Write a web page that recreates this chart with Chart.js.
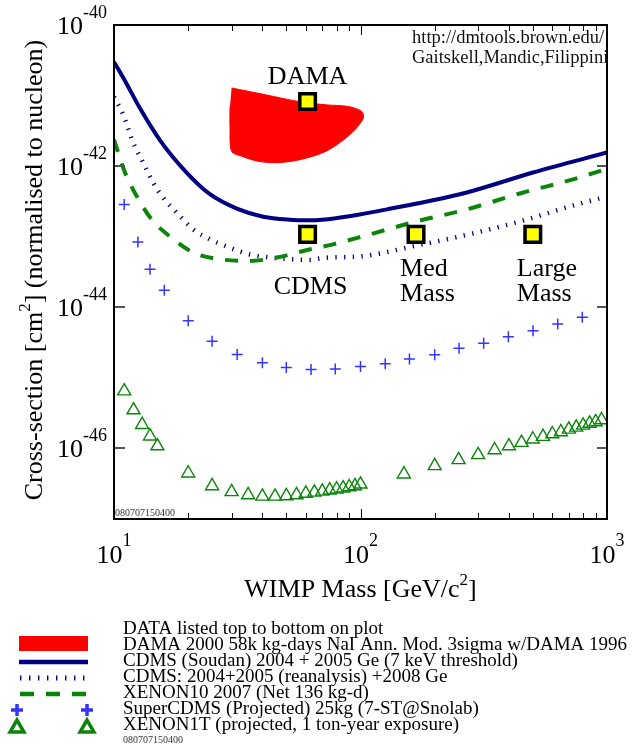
<!DOCTYPE html>
<html>
<head>
<meta charset="utf-8">
<script src="https://cdn.jsdelivr.net/npm/chart.js@4.4.1/dist/chart.umd.min.js"></script>
<style>
  html, body { margin: 0; padding: 0; background: #fff; }
  #wrap { width: 639px; height: 746px; }
</style>
</head>
<body>
<div id="wrap"><canvas id="limits" width="639" height="746"></canvas></div>
<script>
// WIMP mass in GeV/c^2, cross-section in cm^2

// DAMA 3 sigma region (closed outline)
const damaMass  = [30.0, 41.0, 55.9, 71.8, 89.2, 101.1, 102.7, 95.0, 83.9, 71.8, 57.7, 46.4, 38.5, 33.0, 30.0, 29.55, 29.55];
const damaSigma = [1.28e-41, 1.03e-41, 8.25e-42, 7.41e-42, 7.0e-42, 5.96e-42, 4.81e-42, 3.29e-42, 2.25e-42, 1.6e-42, 1.25e-42, 1.12e-42, 1.17e-42, 1.38e-42, 1.62e-42, 3.66e-42, 7.0e-42];

// CDMS (Soudan) 2004 + 2005
const cdmsMass  = [10, 11.1, 12.75, 15.4, 19.7, 24.5, 31.5, 40.3, 51.8, 60, 72, 90, 128, 270, 501, 1000];
const cdmsSigma = [3.0e-41, 1.6e-41, 6.6e-42, 2.3e-42, 8.1e-43, 4.0e-43, 2.5e-43, 1.92e-43, 1.74e-43, 1.71e-43, 1.76e-43, 1.95e-43, 2.44e-43, 4.24e-43, 8.13e-43, 1.56e-42];

// CDMS 2004+2005 (reanalysis) + 2008
const cdmsReMass  = [10, 10.9, 11.97, 13.15, 14.43, 15.85, 17.97, 20.98, 24.5, 29.55, 35.6, 42.9, 51.8, 62.4, 70.5, 102, 163, 297, 474, 755, 1000];
const cdmsReSigma = [9.6e-42, 5.36e-42, 2.13e-42, 1.11e-42, 5.8e-43, 3.56e-43, 2.19e-43, 1.27e-43, 9.2e-44, 7.0e-44, 5.6e-44, 5.07e-44, 4.8e-44, 4.69e-44, 5.0e-44, 5.3e-44, 7.3e-44, 1.15e-43, 1.76e-43, 2.87e-43, 3.7e-43];

// XENON10 2007
const xenon10Mass  = [10, 11.1, 12.36, 14.2, 17.1, 21.0, 26.9, 35.6, 45.7, 58.6, 77.3, 102, 169, 270, 443, 728, 1000];
const xenon10Sigma = [2.38e-42, 8.0e-43, 3.76e-43, 1.76e-43, 9.7e-44, 5.96e-44, 4.8e-44, 4.54e-44, 5.07e-44, 6.28e-44, 7.8e-44, 1.01e-43, 1.65e-43, 2.44e-43, 4.1e-43, 6.5e-43, 9.2e-43];

// SuperCDMS projected
const superMass  = [11, 12.5, 14, 16, 20, 25, 31.6, 40, 50, 63, 79, 100, 126, 158, 200, 251, 316, 398, 501, 631, 794];
const superSigma = [2.87e-43, 8.4e-44, 3.47e-44, 1.75e-44, 6.44e-45, 3.30e-45, 2.15e-45, 1.64e-45, 1.40e-45, 1.31e-45, 1.34e-45, 1.45e-45, 1.58e-45, 1.85e-45, 2.13e-45, 2.62e-45, 3.09e-45, 3.83e-45, 4.66e-45, 5.79e-45, 7.2e-45];

// XENON1T projected
const x1tMass  = [11, 12, 13, 14, 15, 20, 25, 30, 35, 40, 45, 50, 55, 60, 65, 70, 75, 80, 85, 90, 95, 100,
                  150, 200, 250, 300, 350, 400, 450, 500, 550, 600, 650, 700, 750, 800, 850, 900, 950];
const x1tSigma = [6.49e-46, 3.50e-46, 2.17e-46, 1.49e-46, 1.08e-46, 4.45e-47, 2.94e-47, 2.42e-47, 2.19e-47, 2.09e-47, 2.09e-47,
                  2.12e-47, 2.19e-47, 2.30e-47, 2.38e-47, 2.46e-47, 2.56e-47, 2.64e-47, 2.73e-47, 2.84e-47, 2.94e-47, 3.10e-47,
                  4.31e-47, 5.66e-47, 6.89e-47, 8.1e-47, 9.5e-47, 1.08e-46, 1.21e-46, 1.35e-46, 1.47e-46, 1.60e-46,
                  1.71e-46, 1.86e-46, 1.99e-46, 2.12e-46, 2.26e-46, 2.37e-46, 2.53e-46];

// yellow benchmark points
const markerMass   = [61, 61, 168, 500];
const markerSigma  = [8.26e-42, 1.08e-43, 1.08e-43, 1.08e-43];
const markerLabels = [["DAMA"], ["CDMS"], ["Med", "Mass"], ["Large", "Mass"]];

// axes
const xMin = 10, xMax = 1000;
const yMin = 1e-47, yMax = 1e-40;
const xMajorTicks = [10, 100, 1000];
const xMajorLabels = [["10", "1"], ["10", "2"], ["10", "3"]];
const xMinorTicks = [20, 30, 40, 50, 60, 70, 80, 90, 200, 300, 400, 500, 600, 700, 800, 900];
const yTicks = [1e-40, 1e-42, 1e-44, 1e-46];
const yTickLabels = [["10", "-40"], ["10", "-42"], ["10", "-44"], ["10", "-46"]];

const legendLines = [
  "DATA listed top to bottom on plot",
  "DAMA 2000 58k kg-days NaI Ann. Mod. 3sigma w/DAMA 1996",
  "CDMS (Soudan) 2004 + 2005 Ge (7 keV threshold)",
  "CDMS: 2004+2005 (reanalysis) +2008 Ge",
  "XENON10 2007 (Net 136 kg-d)",
  "SuperCDMS (Projected) 25kg (7-ST@Snolab)",
  "XENON1T (projected, 1 ton-year exposure)"
];
const stamp = "080707150400";
const credits = ["http://dmtools.brown.edu/", "Gaitskell,Mandic,Filippini"];

const SERIF = "'Liberation Serif', 'Times New Roman', serif";
const NAVY = "#000080", GREEN = "#0a850a", BLUE = "#3434ff", RED = "#ff0000";

const pts = (xs, ys) => xs.map((m, i) => ({ x: m, y: ys[i] }));

// draws e.g. 10^-42 with a raised, smaller exponent
function powText(ctx, parts, x, y, align, big, small, rise) {
  ctx.font = big + "px " + SERIF;
  const w0 = ctx.measureText(parts[0]).width;
  ctx.font = small + "px " + SERIF;
  const w1 = ctx.measureText(parts[1]).width;
  let left = x;
  if (align === "right") left = x - w0 - w1;
  if (align === "center") left = x - (w0 + w1) / 2;
  ctx.textAlign = "left";
  ctx.font = big + "px " + SERIF;
  ctx.fillText(parts[0], left, y);
  ctx.font = small + "px " + SERIF;
  ctx.fillText(parts[1], left + w0, y - rise);
}

function drawTitle(ctx, parts, cx, baseY) {
  const big = "26px " + SERIF, small = "17px " + SERIF;
  ctx.font = big; const w0 = ctx.measureText(parts[0]).width;
  ctx.font = small; const w1 = ctx.measureText(parts[1]).width;
  ctx.font = big; const w2 = ctx.measureText(parts[2]).width;
  const left = cx - (w0 + w1 + w2) / 2;
  ctx.textAlign = "left";
  ctx.font = big; ctx.fillText(parts[0], left, baseY);
  ctx.font = small; ctx.fillText(parts[1], left + w0, baseY - 12);
  ctx.font = big; ctx.fillText(parts[2], left + w0 + w1, baseY);
}

const decorations = {
  id: "decorations",
  afterDatasetsDraw(chart) {
    const { ctx, chartArea: a, scales: { x, y } } = chart;
    ctx.save();
    ctx.fillStyle = "#000";
    ctx.textBaseline = "alphabetic";

    // labels next to the yellow squares
    const marks = chart.getDatasetMeta(0).data;
    ctx.font = "26px " + SERIF;
    const p0 = marks[0], p1 = marks[1], p2 = marks[2], p3 = marks[3];
    ctx.textAlign = "center";
    ctx.fillText(markerLabels[0][0], p0.x, p0.y - 17);
    ctx.fillText(markerLabels[1][0], p1.x + 3, p1.y + 60);
    ctx.textAlign = "left";
    [p2, p3].forEach((p, k) => {
      const lines = markerLabels[k + 2];
      ctx.fillText(lines[0], p.x - 16, p.y + 42);
      ctx.fillText(lines[1], p.x - 16, p.y + 67);
    });

    // credits, clipped to the plot
    ctx.save();
    ctx.beginPath();
    ctx.rect(a.left, a.top, a.right - a.left, a.bottom - a.top);
    ctx.clip();
    ctx.font = "18.5px " + SERIF;
    ctx.fillStyle = "#111";
    ctx.fillText(credits[0], 412, 43);
    ctx.fillText(credits[1], 412, 63);
    ctx.restore();

    ctx.font = "10px " + SERIF;
    ctx.fillStyle = "#333";
    ctx.fillText(stamp, a.left + 1, a.bottom - 3);

    // ticks
    ctx.strokeStyle = "#000";
    ctx.lineWidth = 1;
    ctx.beginPath();
    xMinorTicks.forEach(v => {
      const px = Math.round(x.getPixelForValue(v)) + 0.5;
      ctx.moveTo(px, a.top); ctx.lineTo(px, a.top + 6);
      ctx.moveTo(px, a.bottom); ctx.lineTo(px, a.bottom - 6);
    });
    const px100 = Math.round(x.getPixelForValue(100)) + 0.5;
    ctx.moveTo(px100, a.top); ctx.lineTo(px100, a.top + 10);
    ctx.moveTo(px100, a.bottom); ctx.lineTo(px100, a.bottom - 10);
    ctx.stroke();

    ctx.strokeStyle = "#555";
    ctx.lineWidth = 2;
    ctx.beginPath();
    yTicks.slice(1).forEach(v => {
      const py = Math.round(y.getPixelForValue(v));
      ctx.moveTo(a.left, py); ctx.lineTo(a.left + 11, py);
      ctx.moveTo(a.right, py); ctx.lineTo(a.right - 10, py);
    });
    ctx.stroke();

    // frame
    ctx.strokeStyle = "#000";
    ctx.lineWidth = 2;
    ctx.strokeRect(a.left, a.top, a.right - a.left, a.bottom - a.top);

    // tick labels
    ctx.fillStyle = "#000";
    yTicks.forEach((v, i) => {
      powText(ctx, yTickLabels[i], a.left - 7, y.getPixelForValue(v) + 9, "right", 26, 18, 16);
    });
    xMajorTicks.forEach((v, i) => {
      powText(ctx, xMajorLabels[i], x.getPixelForValue(v), 563, "center", 26, 18, 17);
    });

    // axis titles
    drawTitle(ctx, ["WIMP Mass [GeV/c", "2", "]"], (a.left + a.right) / 2, 597);
    ctx.save();
    ctx.translate(42, (a.top + a.bottom) / 2 - 2);
    ctx.rotate(-Math.PI / 2);
    drawTitle(ctx, ["Cross-section [cm", "2", "] (normalised to nucleon)"], 0, 0);
    ctx.restore();

    ctx.restore();
  },
  afterDraw(chart) {
    const ctx = chart.ctx;
    ctx.save();
    const tx = 123, base0 = 634, step = 16;
    ctx.fillStyle = "#000";
    ctx.textAlign = "left";
    ctx.textBaseline = "alphabetic";
    ctx.font = "19px " + SERIF;
    legendLines.forEach((t, i) => ctx.fillText(t, tx, base0 + i * step));
    ctx.font = "10px " + SERIF;
    ctx.fillStyle = "#333";
    ctx.fillText(stamp, tx, base0 + 6 * step + 13);

    const mid = i => base0 + i * step - 6;
    const x0 = 19, x1 = 88;
    // DAMA
    ctx.fillStyle = RED;
    ctx.fillRect(x0, mid(1) - 8, x1 - x0, 15);
    // CDMS solid
    ctx.lineCap = "butt";
    ctx.strokeStyle = NAVY; ctx.lineWidth = 4.5;
    ctx.beginPath(); ctx.moveTo(x0, mid(2) + 2); ctx.lineTo(x1, mid(2) + 2); ctx.stroke();
    // CDMS reanalysis dotted
    ctx.setLineDash([1.4, 7.6]); ctx.lineWidth = 5;
    ctx.beginPath(); ctx.moveTo(x0 + 1, mid(3) + 2); ctx.lineTo(x1, mid(3) + 2); ctx.stroke();
    // XENON10 dashed
    ctx.setLineDash([14, 12]); ctx.strokeStyle = GREEN; ctx.lineWidth = 4.5;
    ctx.beginPath(); ctx.moveTo(x0 + 1, mid(4) + 2); ctx.lineTo(x1 + 2, mid(4) + 2); ctx.stroke();
    ctx.setLineDash([]);
    // SuperCDMS crosses + XENON1T triangles at both ends
    [x0 - 2, x1 - 1].forEach(cx => {
      ctx.strokeStyle = BLUE; ctx.lineWidth = 3.5;
      ctx.beginPath();
      ctx.moveTo(cx - 6, mid(5) + 2); ctx.lineTo(cx + 6, mid(5) + 2);
      ctx.moveTo(cx, mid(5) - 4); ctx.lineTo(cx, mid(5) + 8);
      ctx.stroke();
      ctx.strokeStyle = GREEN; ctx.lineWidth = 3.5;
      const cy = mid(6) + 4, r = 8;
      ctx.beginPath();
      ctx.moveTo(cx, cy - r);
      ctx.lineTo(cx + r * 0.866, cy + r / 2);
      ctx.lineTo(cx - r * 0.866, cy + r / 2);
      ctx.closePath();
      ctx.stroke();
    });
    ctx.restore();
  }
};

new Chart(document.getElementById("limits"), {
  type: "scatter",
  data: {
    datasets: [
      {
        label: "markers", order: 0,
        data: pts(markerMass, markerSigma),
        pointStyle: "rect", pointRadius: 11, pointHoverRadius: 11,
        backgroundColor: "#ffff00", borderColor: "#000", borderWidth: 3.5
      },
      {
        label: "DAMA", order: 6,
        data: pts(damaMass, damaSigma),
        showLine: true, fill: "shape", tension: 0.3,
        backgroundColor: RED, borderColor: RED, borderWidth: 1, pointRadius: 0
      },
      {
        label: "CDMS Soudan", order: 3,
        data: pts(cdmsMass, cdmsSigma),
        showLine: true, cubicInterpolationMode: "monotone",
        borderColor: NAVY, borderWidth: 4, pointRadius: 0
      },
      {
        label: "CDMS reanalysis", order: 4,
        data: pts(cdmsReMass, cdmsReSigma),
        showLine: true, cubicInterpolationMode: "monotone",
        borderColor: NAVY, borderWidth: 4.5, borderDash: [1.3, 7.4], borderCapStyle: "butt", pointRadius: 0
      },
      {
        label: "XENON10", order: 2,
        data: pts(xenon10Mass, xenon10Sigma),
        showLine: true, cubicInterpolationMode: "monotone",
        borderColor: GREEN, borderWidth: 4, borderDash: [13, 12], borderCapStyle: "butt", pointRadius: 0
      },
      {
        label: "SuperCDMS", order: 1,
        data: pts(superMass, superSigma),
        pointStyle: "cross", pointRadius: 5.5, borderColor: BLUE, borderWidth: 1.5
      },
      {
        label: "XENON1T", order: 1,
        data: pts(x1tMass, x1tSigma),
        pointStyle: "triangle", pointRadius: 7.5, borderColor: GREEN, backgroundColor: "rgba(0,0,0,0)", borderWidth: 1.4
      }
    ]
  },
  options: {
    responsive: false,
    animation: false,
    devicePixelRatio: 1,
    layout: { padding: { left: 114, right: 32, top: 25, bottom: 227 } },
    plugins: { legend: { display: false }, tooltip: { enabled: false } },
    scales: {
      x: { type: "logarithmic", min: xMin, max: xMax, display: false },
      y: { type: "logarithmic", min: yMin, max: yMax, display: false }
    }
  },
  plugins: [decorations]
});
</script>
</body>
</html>
